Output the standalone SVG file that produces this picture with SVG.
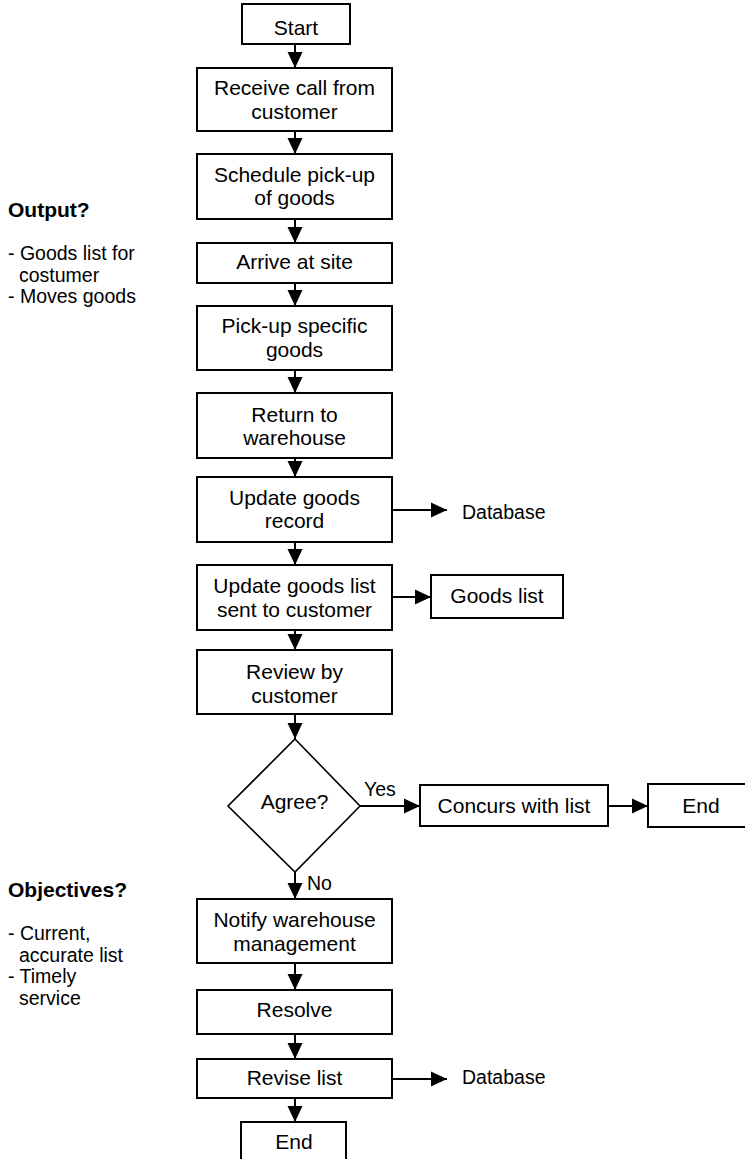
<svg xmlns="http://www.w3.org/2000/svg" width="745" height="1159" viewBox="0 0 745 1159">
<defs>
<style>
.box{fill:#fff;stroke:#000;stroke-width:2}
.dia{fill:#fff;stroke:#000;stroke-width:1.6}
.t{font-family:"Liberation Sans",Arial,sans-serif;font-size:21px;fill:#000;text-anchor:middle}
.l{font-family:"Liberation Sans",Arial,sans-serif;font-size:19.5px;fill:#000}
.h{font-family:"Liberation Sans",Arial,sans-serif;font-size:21px;font-weight:bold;fill:#000}
.c{fill:none;stroke:#000;stroke-width:2}
</style>
<marker id="ah" markerUnits="userSpaceOnUse" markerWidth="17" markerHeight="17" refX="16" refY="8" orient="auto" viewBox="0 0 17 17">
<path d="M0,0.5 L16,8 L0,15.5 z" fill="#000"/>
</marker>
</defs>
<rect width="745" height="1159" fill="#fff"/>

<g id="connectors">
<line class="c" x1="295" y1="44" x2="295" y2="68" marker-end="url(#ah)"/>
<line class="c" x1="295" y1="131" x2="295" y2="154" marker-end="url(#ah)"/>
<line class="c" x1="295" y1="219" x2="295" y2="243" marker-end="url(#ah)"/>
<line class="c" x1="295" y1="283" x2="295" y2="306" marker-end="url(#ah)"/>
<line class="c" x1="295" y1="370" x2="295" y2="393" marker-end="url(#ah)"/>
<line class="c" x1="295" y1="458" x2="295" y2="477" marker-end="url(#ah)"/>
<line class="c" x1="295" y1="542" x2="295" y2="565" marker-end="url(#ah)"/>
<line class="c" x1="295" y1="630" x2="295" y2="650" marker-end="url(#ah)"/>
<line class="c" x1="295" y1="714" x2="295" y2="739" marker-end="url(#ah)"/>
<line class="c" x1="295" y1="872" x2="295" y2="899" marker-end="url(#ah)"/>
<line class="c" x1="295" y1="963" x2="295" y2="990" marker-end="url(#ah)"/>
<line class="c" x1="295" y1="1034" x2="295" y2="1059" marker-end="url(#ah)"/>
<line class="c" x1="295" y1="1098" x2="295" y2="1122" marker-end="url(#ah)"/>
<line class="c" x1="392" y1="510" x2="447" y2="510" marker-end="url(#ah)"/>
<line class="c" x1="392" y1="597" x2="431" y2="597" marker-end="url(#ah)"/>
<line class="c" x1="360" y1="806" x2="420" y2="806" marker-end="url(#ah)"/>
<line class="c" x1="608" y1="806" x2="648" y2="806" marker-end="url(#ah)"/>
<line class="c" x1="392" y1="1079" x2="447" y2="1079" marker-end="url(#ah)"/>
<text class="l" x="364" y="796" font-size="21">Yes</text>
<text class="l" x="307" y="890" font-size="21">No</text>
</g>

<g id="start"><rect class="box" x="242" y="4" width="108" height="40"/><text class="t" x="296" y="35">Start</text></g>
<g id="receive"><rect class="box" x="197" y="68" width="195" height="63"/><text class="t" x="294.5" y="95">Receive call from</text><text class="t" x="294.5" y="119">customer</text></g>
<g id="schedule"><rect class="box" x="197" y="154" width="195" height="65"/><text class="t" x="294.5" y="182">Schedule pick-up</text><text class="t" x="294.5" y="205">of goods</text></g>
<g id="arrive"><rect class="box" x="197" y="243" width="195" height="40"/><text class="t" x="294.5" y="269">Arrive at site</text></g>
<g id="pickup"><rect class="box" x="197" y="306" width="195" height="64"/><text class="t" x="294.5" y="333">Pick-up specific</text><text class="t" x="294.5" y="357">goods</text></g>
<g id="return"><rect class="box" x="197" y="393" width="195" height="65"/><text class="t" x="294.5" y="422">Return to</text><text class="t" x="294.5" y="445">warehouse</text></g>
<g id="update-record"><rect class="box" x="197" y="477" width="195" height="65"/><text class="t" x="294.5" y="505">Update goods</text><text class="t" x="294.5" y="528">record</text></g>
<g id="database1"><text class="l" x="462" y="519" font-size="21">Database</text></g>
<g id="update-list"><rect class="box" x="197" y="565" width="195" height="65"/><text class="t" x="294.5" y="593">Update goods list</text><text class="t" x="294.5" y="617">sent to customer</text></g>
<g id="goods-list"><rect class="box" x="431" y="575" width="132" height="43"/><text class="t" x="497" y="603">Goods list</text></g>
<g id="review"><rect class="box" x="197" y="650" width="195" height="64"/><text class="t" x="294.5" y="679">Review by</text><text class="t" x="294.5" y="703">customer</text></g>
<g id="agree"><polygon class="dia" points="295,739 360,806 295,872 228,806"/><text class="t" x="294.5" y="809">Agree?</text></g>
<g id="concurs"><rect class="box" x="420" y="785" width="188" height="41"/><text class="t" x="514" y="813">Concurs with list</text></g>
<g id="end1"><rect class="box" x="648" y="784" width="107" height="43"/><text class="t" x="701" y="813">End</text></g>
<g id="notify"><rect class="box" x="197" y="899" width="195" height="64"/><text class="t" x="294.5" y="927">Notify warehouse</text><text class="t" x="294.5" y="951">management</text></g>
<g id="resolve"><rect class="box" x="197" y="990" width="195" height="44"/><text class="t" x="294.5" y="1017">Resolve</text></g>
<g id="revise"><rect class="box" x="197" y="1059" width="195" height="39"/><text class="t" x="294.5" y="1085">Revise list</text></g>
<g id="database2"><text class="l" x="462" y="1084" font-size="21">Database</text></g>
<g id="end2"><rect class="box" x="241" y="1122" width="105" height="45"/><text class="t" x="294" y="1149">End</text></g>

<g id="output-notes">
<text class="h" x="8" y="217">Output?</text>
<text class="l" x="8" y="260">- Goods list for</text>
<text class="l" x="19" y="282">costumer</text>
<text class="l" x="8" y="303">- Moves goods</text>
</g>
<g id="objectives-notes">
<text class="h" x="8" y="897">Objectives?</text>
<text class="l" x="8" y="940">- Current,</text>
<text class="l" x="19" y="962">accurate list</text>
<text class="l" x="8" y="983">- Timely</text>
<text class="l" x="19" y="1005">service</text>
</g>
</svg>
